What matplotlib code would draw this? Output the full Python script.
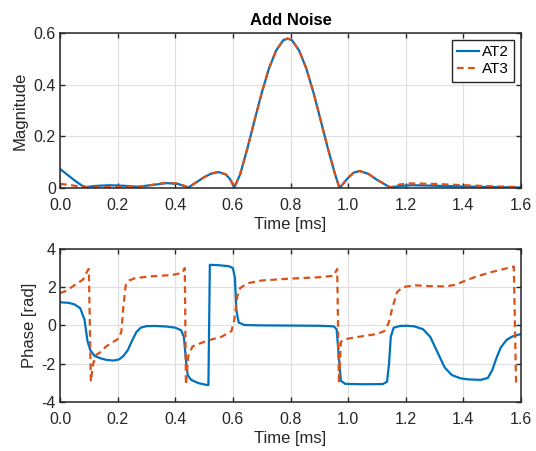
import matplotlib
matplotlib.use("Agg")
import matplotlib.pyplot as plt

# Magnitude data
t_mag = [0.0, 0.025, 0.05, 0.075, 0.09, 0.12, 0.17, 0.22, 0.27, 0.32, 0.37, 0.41, 0.445,
         0.47, 0.5, 0.525, 0.55, 0.575, 0.59, 0.605, 0.625, 0.65, 0.675, 0.7, 0.725, 0.75,
         0.775, 0.79, 0.805, 0.83, 0.855, 0.88, 0.905, 0.93, 0.955, 0.97, 1.0, 1.02, 1.04,
         1.07, 1.1, 1.146, 1.18, 1.22, 1.3, 1.4, 1.5, 1.6]
mag_at2 = [0.074, 0.052, 0.03, 0.01, 0.004, 0.008, 0.011, 0.009, 0.005, 0.012, 0.019, 0.016, 0.002,
           0.02, 0.042, 0.056, 0.062, 0.053, 0.035, 0.003, 0.052, 0.152, 0.261, 0.368, 0.462, 0.532,
           0.572, 0.578, 0.572, 0.532, 0.462, 0.368, 0.261, 0.152, 0.052, 0.0, 0.04, 0.06, 0.066,
           0.055, 0.032, 0.002, 0.008, 0.011, 0.009, 0.006, 0.004, 0.002]
mag_at3 = [0.016, 0.013, 0.009, 0.005, 0.003, 0.003, 0.004, 0.004, 0.005, 0.012, 0.021, 0.018, 0.003,
           0.02, 0.042, 0.056, 0.062, 0.053, 0.035, 0.003, 0.052, 0.152, 0.261, 0.368, 0.462, 0.532,
           0.572, 0.578, 0.572, 0.532, 0.462, 0.368, 0.261, 0.152, 0.052, 0.0, 0.04, 0.06, 0.066,
           0.055, 0.032, 0.003, 0.014, 0.018, 0.016, 0.011, 0.007, 0.004]

# Phase data
t_ph2 = [0.0, 0.03, 0.05, 0.07, 0.085, 0.095, 0.105, 0.12, 0.14, 0.16, 0.185, 0.205, 0.22, 0.235,
         0.25, 0.265, 0.28, 0.3, 0.33, 0.37, 0.4, 0.42, 0.43, 0.437, 0.443, 0.455, 0.48, 0.51,
         0.515, 0.52, 0.55, 0.585, 0.6, 0.607, 0.612, 0.62, 0.64, 0.7, 0.8, 0.9, 0.95, 0.96,
         0.967, 0.975, 0.99, 1.05, 1.12, 1.135, 1.142, 1.148, 1.158, 1.18, 1.205, 1.23, 1.26,
         1.285, 1.31, 1.335, 1.36, 1.39, 1.42, 1.46, 1.485, 1.5, 1.515, 1.53, 1.55, 1.57, 1.6]
ph_at2 = [1.21, 1.18, 1.1, 0.9, 0.3, -0.8, -1.3, -1.6, -1.72, -1.8, -1.84, -1.78, -1.6, -1.3,
          -0.8, -0.35, -0.12, -0.04, -0.03, -0.06, -0.12, -0.25, -0.6, -1.8, -2.6, -2.85, -3.02, -3.12,
          -3.12, 3.17, 3.15, 3.1, 3.0, 2.5, 0.8, 0.15, 0.02, 0.0, -0.01, -0.02, -0.05, -0.2,
          -1.5, -2.9, -3.06, -3.08, -3.07, -2.95, -2.0, -0.6, -0.12, -0.03, -0.02, -0.05, -0.2,
          -0.6, -1.4, -2.2, -2.6, -2.77, -2.83, -2.85, -2.75, -2.35, -1.7, -1.15, -0.76, -0.58, -0.45]
t_ph3 = [0.0, 0.02, 0.04, 0.06, 0.08, 0.095, 0.1, 0.107, 0.115, 0.125, 0.14, 0.16, 0.18, 0.205,
         0.213, 0.22, 0.228, 0.24, 0.26, 0.31, 0.39, 0.425, 0.433, 0.437, 0.445, 0.46, 0.51, 0.56,
         0.595, 0.605, 0.615, 0.625, 0.65, 0.7, 0.8, 0.9, 0.95, 0.962, 0.968, 0.975, 0.99, 1.04,
         1.1, 1.125, 1.14, 1.155, 1.17, 1.19, 1.23, 1.29, 1.34, 1.37, 1.4, 1.44, 1.5, 1.575, 1.583]
ph_at3 = [1.69, 1.8, 2.0, 2.2, 2.4, 2.85, 2.95, -2.94, -2.0, -1.55, -1.4, -1.1, -0.9, -0.68,
          -0.3, 1.0, 2.1, 2.35, 2.47, 2.56, 2.64, 2.75, 3.0, -3.1, -1.6, -1.1, -0.8, -0.6,
          -0.3, 0.3, 1.5, 1.95, 2.2, 2.35, 2.45, 2.52, 2.6, 2.95, -3.03, -0.85, -0.72, -0.59,
          -0.45, -0.3, 0.1, 1.0, 1.75, 2.0, 2.1, 2.05, 2.04, 2.12, 2.3, 2.53, 2.8, 3.08, -3.1]

x_ticks = [0.0, 0.2, 0.4, 0.6, 0.8, 1.0, 1.2, 1.4, 1.6]
x_ticklabels = ["0.0", "0.2", "0.4", "0.6", "0.8", "1.0", "1.2", "1.4", "1.6"]

plt.rcParams['font.family'] = ['Liberation Sans', 'DejaVu Sans']
plt.rcParams['axes.unicode_minus'] = False

blue = '#0072BD'
orange = '#D95319'
dark = '#262626'

fig = plt.figure(figsize=(5.36, 4.51), dpi=100)
ax1 = fig.add_axes([0.112, 0.583, 0.860, 0.344])
ax2 = fig.add_axes([0.112, 0.109, 0.860, 0.339])


def style(ax):
    ax.set_xlim(0, 1.6)
    ax.set_xticks(x_ticks)
    ax.set_xticklabels(x_ticklabels)
    ax.grid(True, color='#e0e0e0', linewidth=0.9)
    ax.set_axisbelow(True)
    ax.tick_params(direction='in', top=True, right=True, length=3.5, width=1,
                   labelsize=11.5, colors=dark)
    ax.tick_params(axis='x', pad=7)
    ax.tick_params(axis='y', pad=3)
    for s in ax.spines.values():
        s.set_color(dark)
        s.set_linewidth(1.1)
    ax.set_xlabel("Time [ms]", fontsize=12, color=dark, labelpad=3)


ax1.plot(t_mag, mag_at2, color=blue, lw=1.6, label='AT2')
ax1.plot(t_mag, mag_at3, color=orange, lw=1.6, ls=(0, (3, 2)), label='AT3')
style(ax1)
ax1.set_ylim(0, 0.6)
ax1.set_yticks([0, 0.2, 0.4, 0.6])
ax1.set_yticklabels(["0", "0.2", "0.4", "0.6"])
ax1.set_ylabel("Magnitude", fontsize=12, color=dark, labelpad=4)
ax1.set_title("Add Noise", fontsize=12, fontweight='bold', pad=6)
leg = ax1.legend(loc='upper right', fontsize=11, frameon=True, fancybox=False,
                 framealpha=1, edgecolor=dark, handlelength=1.4, handletextpad=0.2,
                 borderpad=0.35, labelspacing=0.2, borderaxespad=0.45)
leg.get_frame().set_linewidth(1.0)

ax2.plot(t_ph2, ph_at2, color=blue, lw=1.6)
ax2.plot(t_ph3, ph_at3, color=orange, lw=1.6, ls=(0, (3, 2)))
style(ax2)
ax2.set_ylim(-4, 4)
ax2.set_yticks([-4, -2, 0, 2, 4])
ax2.set_ylabel("Phase [rad]", fontsize=12, color=dark, labelpad=3)

fig.savefig("out.png", dpi=100)
